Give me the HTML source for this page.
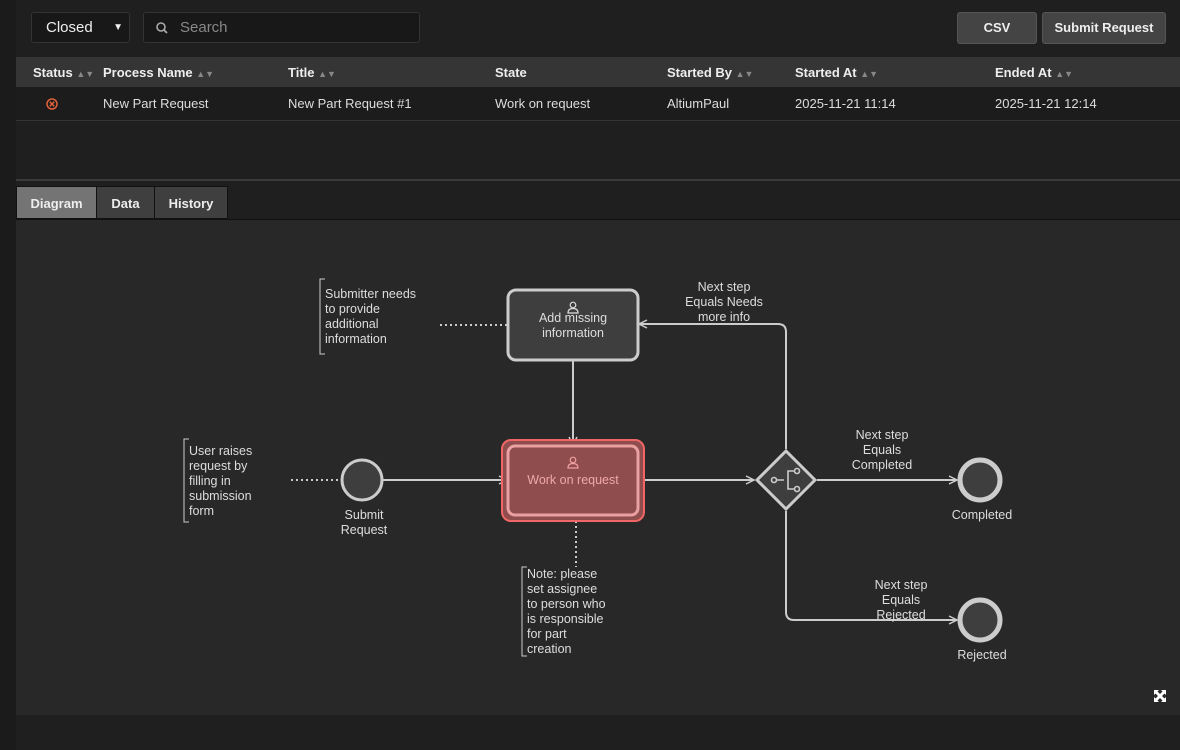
<!DOCTYPE html>
<html><head><style>
body{margin:0;width:1180px;height:750px;background:#1f1f1f;font-family:"Liberation Sans",sans-serif;position:relative;overflow:hidden}
.a{position:absolute}
.btn{background:#444;border:1px solid #555;border-radius:3px;color:#eee;font-weight:bold;font-size:13px;text-align:center;line-height:30px;height:30px}
.th{color:#eee;font-weight:bold;font-size:13px;top:65px}
.td{color:#ddd;font-size:13px;top:96px}
.s{color:#888;font-size:9px}
.tab{top:186px;height:33px;line-height:33px;font-size:13px;font-weight:bold;color:#eee;text-align:center;border:1px solid #111;box-sizing:border-box}
</style></head><body>
<div class="a" style="left:0;top:0;width:16px;height:750px;background:#1b1b1b"></div>
<div class="a" style="left:31px;top:12px;width:99px;height:31px;background:#181818;border:1px solid #333;border-radius:3px;box-sizing:border-box;color:#eee;font-size:15px;line-height:29px;padding-left:14px">Closed<span style="position:absolute;right:6px;font-size:10px">&#9660;</span></div>
<div class="a" style="left:143px;top:12px;width:277px;height:31px;background:#181818;border:1px solid #333;border-radius:3px;box-sizing:border-box;color:#888;font-size:15px;line-height:29px;padding-left:36px">Search
<svg style="position:absolute;left:12px;top:9px" width="12" height="12"><circle cx="5" cy="5" r="4" stroke="#aaa" stroke-width="1.6" fill="none"/><line x1="8" y1="8" x2="11" y2="11" stroke="#aaa" stroke-width="1.8"/></svg></div>
<div class="a btn" style="left:957px;top:12px;width:78px">CSV</div>
<div class="a btn" style="left:1042px;top:12px;width:122px">Submit Request</div>
<div class="a" style="left:16px;top:57px;width:1164px;height:30px;background:#353535"></div>
<div class="a" style="left:16px;top:87px;width:1164px;height:33px;background:#1c1c1c;border-bottom:1px solid #333"></div>
<div class="a th" style="left:33px">Status <span class="s">&#9650;&#9660;</span></div>
<div class="a th" style="left:103px">Process Name <span class="s">&#9650;&#9660;</span></div>
<div class="a th" style="left:288px">Title <span class="s">&#9650;&#9660;</span></div>
<div class="a th" style="left:495px">State</div>
<div class="a th" style="left:667px">Started By <span class="s">&#9650;&#9660;</span></div>
<div class="a th" style="left:795px">Started At <span class="s">&#9650;&#9660;</span></div>
<div class="a th" style="left:995px">Ended At <span class="s">&#9650;&#9660;</span></div>
<svg class="a" style="left:45px;top:97px" width="14" height="14"><circle cx="7" cy="7" r="5" stroke="#e0603a" stroke-width="1.5" fill="none"/><path d="M4.8 4.8L9.2 9.2M9.2 4.8L4.8 9.2" stroke="#e0603a" stroke-width="1.5"/></svg>
<div class="a td" style="left:103px">New Part Request</div>
<div class="a td" style="left:288px">New Part Request #1</div>
<div class="a td" style="left:495px">Work on request</div>
<div class="a td" style="left:667px">AltiumPaul</div>
<div class="a td" style="left:795px">2025-11-21 11:14</div>
<div class="a td" style="left:995px">2025-11-21 12:14</div>
<div class="a" style="left:16px;top:179px;width:1164px;height:2px;background:#3a3a3a"></div>
<div class="a" style="left:16px;top:219px;width:1164px;height:495px;background:#282828;border-top:1px solid #111"></div>
<div class="a tab" style="left:16px;width:81px;background:#747474">Diagram</div>
<div class="a tab" style="left:96px;width:59px;background:#3f3f3f">Data</div>
<div class="a tab" style="left:154px;width:74px;background:#3f3f3f">History</div>
<svg class="a" style="left:0;top:0" width="1180" height="750" font-family="Liberation Sans, sans-serif" font-size="12.5">
<defs><marker id="ar" viewBox="0 0 10 10" refX="9" refY="5" markerWidth="10" markerHeight="10" markerUnits="userSpaceOnUse" orient="auto"><path d="M1 1L9 5L1 9" stroke="#ccc" stroke-width="1.5" fill="none"/></marker></defs>
<g stroke="#ccc" stroke-width="2" fill="none">
<line x1="382" y1="480" x2="507" y2="480" marker-end="url(#ar)"/>
<line x1="573" y1="360" x2="573" y2="445" marker-end="url(#ar)"/>
<line x1="638" y1="480" x2="754" y2="480" marker-end="url(#ar)"/>
<line x1="817" y1="480" x2="957" y2="480" marker-end="url(#ar)"/>
<path d="M786 511V612q0 8 8 8H957" marker-end="url(#ar)"/>
<path d="M786 449V332q0-8-8-8H639" marker-end="url(#ar)"/>
</g>
<g stroke="#ccc" stroke-width="2" stroke-dasharray="2 3" fill="none">
<line x1="440" y1="325" x2="508" y2="325"/><line x1="291" y1="480" x2="340" y2="480"/><line x1="576" y1="516" x2="576" y2="567"/>
</g>
<g stroke="#ccc" stroke-width="1" fill="none">
<path d="M325 279H320V354H325"/><path d="M189 439H184V522H189"/><path d="M527 567H522V656H527"/>
</g>
<rect x="508" y="290" width="130" height="70" rx="8" fill="#3e3e3e" stroke="#ccc" stroke-width="3"/>
<rect x="502" y="440" width="142" height="81" rx="9" fill="#8f4d4d" stroke="#f06666" stroke-width="2"/>
<rect x="508" y="446" width="130" height="69" rx="7" fill="#8f4d4d" stroke="#eaa0a0" stroke-width="3"/>
<circle cx="362" cy="480" r="20" fill="#3e3e3e" stroke="#ccc" stroke-width="3"/>
<circle cx="980" cy="480" r="20" fill="#3e3e3e" stroke="#ccc" stroke-width="5"/>
<circle cx="980" cy="620" r="20" fill="#3e3e3e" stroke="#ccc" stroke-width="5"/>
<path d="M786 451L815 480L786 509L757 480Z" fill="#3e3e3e" stroke="#ccc" stroke-width="3"/>
<g stroke="#ccc" stroke-width="1.6" fill="none"><circle cx="774" cy="480" r="2.5"/><circle cx="797" cy="471" r="2.5"/><circle cx="797" cy="489" r="2.5"/><path d="M777 480H784M794 471H788V489H794"/></g>
<g fill="none" stroke-width="1.2"><circle cx="573" cy="305" r="2.8" stroke="#ddd"/><path d="M568 313q0-4.5 5-4.5t5 4.5z" stroke="#ddd"/>
<circle cx="573" cy="460" r="2.8" stroke="#f0a0a0"/><path d="M568 468q0-4.5 5-4.5t5 4.5z" stroke="#f0a0a0"/></g>
<g fill="#ddd" text-anchor="middle">
<text x="573" y="322">Add missing</text><text x="573" y="337">information</text>
<text x="573" y="484" fill="#f0a8a8">Work on request</text>
<text x="364" y="519">Submit</text><text x="364" y="534">Request</text>
<text x="982" y="519">Completed</text><text x="982" y="659">Rejected</text>
<text x="724" y="291">Next step</text><text x="724" y="306">Equals Needs</text><text x="724" y="321">more info</text>
<text x="882" y="439">Next step</text><text x="882" y="454">Equals</text><text x="882" y="469">Completed</text>
<text x="901" y="589">Next step</text><text x="901" y="604">Equals</text><text x="901" y="619">Rejected</text>
</g>
<g fill="#ddd">
<text x="325" y="298">Submitter needs</text><text x="325" y="313">to provide</text><text x="325" y="328">additional</text><text x="325" y="343">information</text>
<text x="189" y="455">User raises</text><text x="189" y="470">request by</text><text x="189" y="485">filling in</text><text x="189" y="500">submission</text><text x="189" y="515">form</text>
<text x="527" y="578">Note: please</text><text x="527" y="593">set assignee</text><text x="527" y="608">to person who</text><text x="527" y="623">is responsible</text><text x="527" y="638">for part</text><text x="527" y="653">creation</text>
</g>
<g fill="#fff"><path d="M1154 690h5l-1.5 1.5 2.5 2.5 2.5-2.5-1.5-1.5h5v5l-1.5-1.5-2.5 2.5 2.5 2.5 1.5-1.5v5h-5l1.5-1.5-2.5-2.5-2.5 2.5 1.5 1.5h-5v-5l1.5 1.5 2.5-2.5-2.5-2.5-1.5 1.5z"/></g>
</svg>
</body></html>
